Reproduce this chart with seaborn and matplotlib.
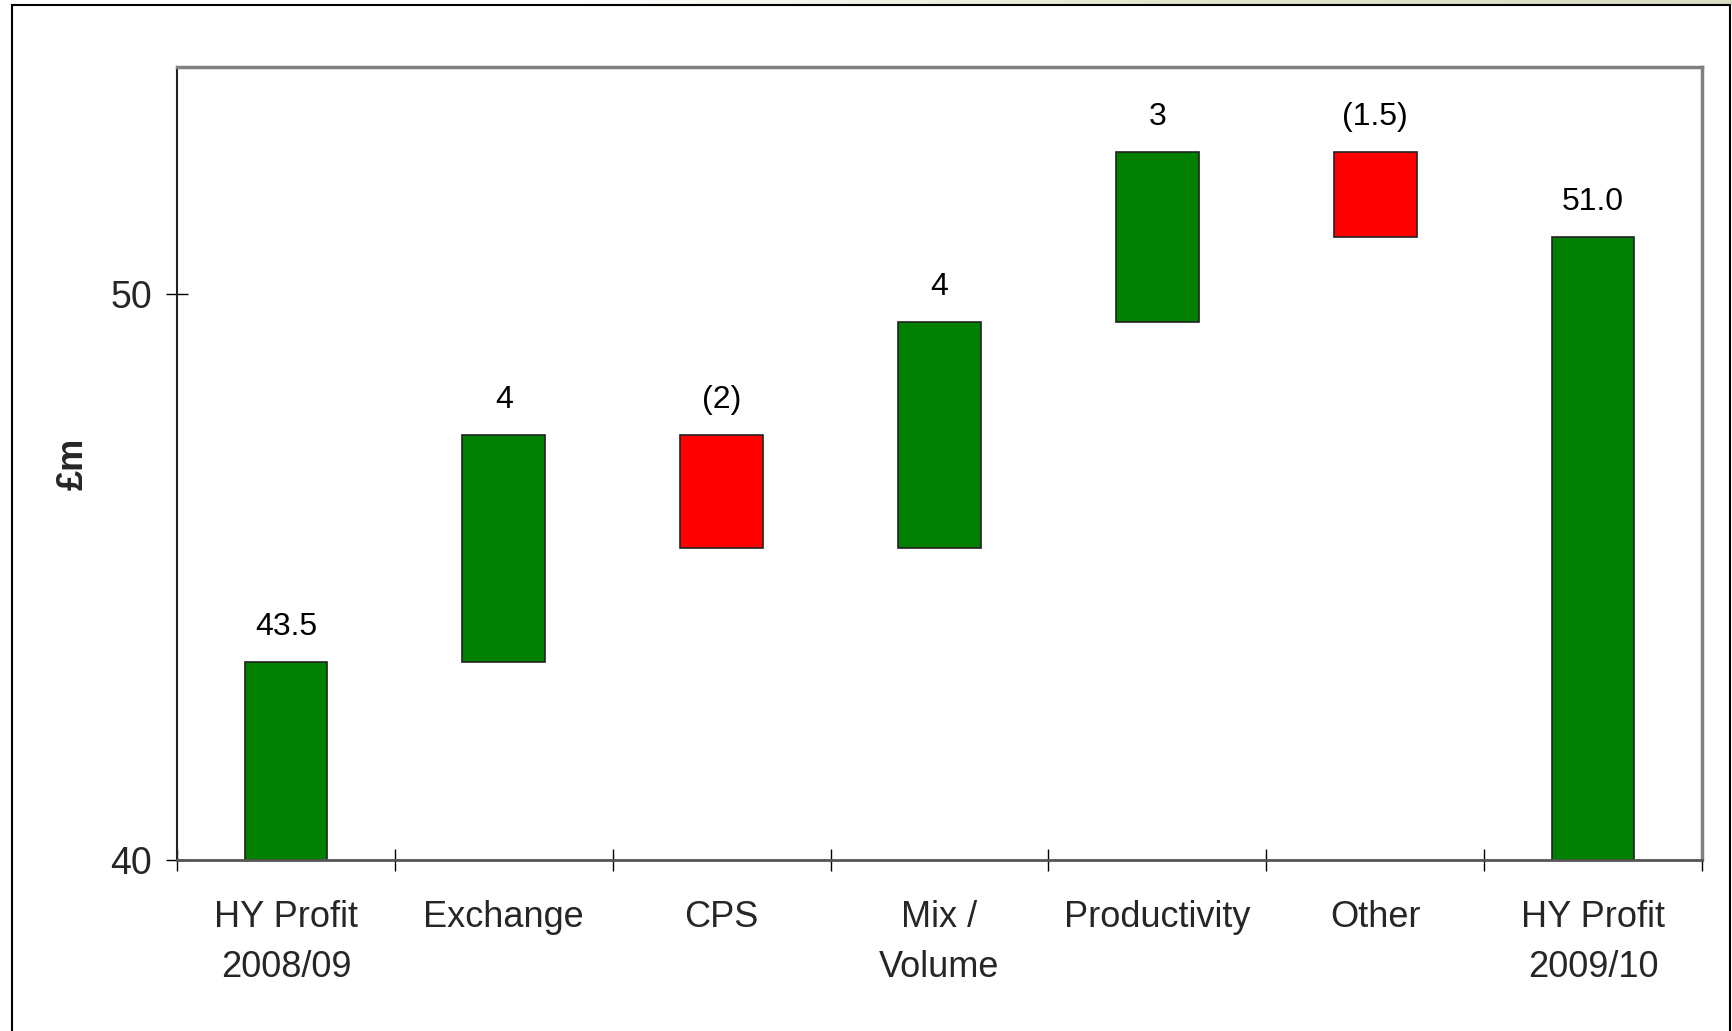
import numpy as np
import pandas as pd
import matplotlib
matplotlib.use("Agg")
import matplotlib.pyplot as plt
from matplotlib.patches import Rectangle
import seaborn as sns

# Half-year profit bridge, £m
categories = ["HY Profit\n2008/09", "Exchange", "CPS", "Mix /\nVolume",
              "Productivity", "Other", "HY Profit\n2009/10"]
opening_profit = 43.5
movements = [4, -2, 4, 3, -1.5]
closing_profit = 51.0
value_labels = ["43.5", "4", "(2)", "4", "3", "(1.5)", "51.0"]

GREEN = "#008000"
RED = "#FF0000"

# Build floating segments for the waterfall
running = opening_profit + np.concatenate([[0], np.cumsum(movements)])
bottoms = [0.0]
heights = [opening_profit]
for prev, m in zip(running[:-1], movements):
    bottoms.append(min(prev, prev + m))
    heights.append(abs(m))
bottoms.append(0.0)
heights.append(closing_profit)
signs = [1] + [1 if m >= 0 else -1 for m in movements] + [1]

df = pd.DataFrame({"category": categories, "bottom": bottoms,
                   "height": heights, "sign": signs})
df["top"] = df["bottom"] + df["height"]

sns.set_style("white")
fam = ["Liberation Sans", "DejaVu Sans"]
plt.rcParams["font.family"] = fam

fig = plt.figure(figsize=(17.32, 10.31), dpi=100)
ax = fig.add_axes([0.1022, 0.1659, 0.8805, 0.7691])

up = df[df["sign"] > 0]
down = df[df["sign"] < 0]
sns.barplot(data=up, x="category", y="height", order=categories,
            bottom=up["bottom"].to_numpy(), color=GREEN, saturation=1,
            width=0.38, errorbar=None, edgecolor="#222222", linewidth=1.2, ax=ax)
sns.barplot(data=down, x="category", y="height", order=categories,
            bottom=down["bottom"].to_numpy(), color=RED, saturation=1,
            width=0.38, errorbar=None, edgecolor="#222222", linewidth=1.2, ax=ax)

ax.set_xlim(-0.5, 6.5)
ax.set_ylim(40, 54)

# Value labels above each bar
for i, (top, lab) in enumerate(zip(df["top"], value_labels)):
    ax.annotate(lab, xy=(i, top), xytext=(0, 25), textcoords="offset points",
                ha="center", va="center", fontsize=23, color="black",
                family=fam)

# Axes frame
for side in ["top", "right"]:
    ax.spines[side].set_color("#808080")
    ax.spines[side].set_linewidth(2.5)
ax.spines["left"].set_color("#222222")
ax.spines["left"].set_linewidth(1.5)
ax.spines["bottom"].set_color("#555555")
ax.spines["bottom"].set_linewidth(2)

# Ticks
ax.set_yticks([40, 50])
ax.set_yticklabels(["40", "50"], family=fam, fontsize=27)
ax.tick_params(axis="y", which="major", direction="inout", length=16,
               width=1, color="black", pad=10, left=True)

ax.set_xticks(range(len(categories)))
ax.set_xticklabels(categories, family=fam, fontsize=26, linespacing=1.55)
ax.tick_params(axis="x", which="major", length=0, pad=29)
ax.set_xticks(np.arange(-0.5, len(categories)), minor=True)
ax.tick_params(axis="x", which="minor", direction="inout", length=16,
               width=1, color="black", bottom=True)

ax.set_xlabel("")
ax.set_ylabel("£m", fontsize=26, fontweight="bold", labelpad=14)

# Slide frame and header strip
fig.patches.append(Rectangle((12 / 1732, -0.01), (1730 - 12) / 1732, (1026) / 1031 + 0.01,
                             transform=fig.transFigure, fill=False,
                             edgecolor="black", linewidth=1.5, zorder=5))
strip = fig.add_axes([0, 1 - 4 / 1031, 1, 4 / 1031])
grad = np.linspace(0, 1, 256)[None, :]
strip.imshow(grad, aspect="auto", cmap=matplotlib.colors.LinearSegmentedColormap.from_list(
    "hdr", ["#ffffff", "#ffffff", "#e4e6cc", "#d8dcc0"]), extent=[0, 1, 0, 1])
strip.set_axis_off()

fig.savefig("out.png", dpi=100)
